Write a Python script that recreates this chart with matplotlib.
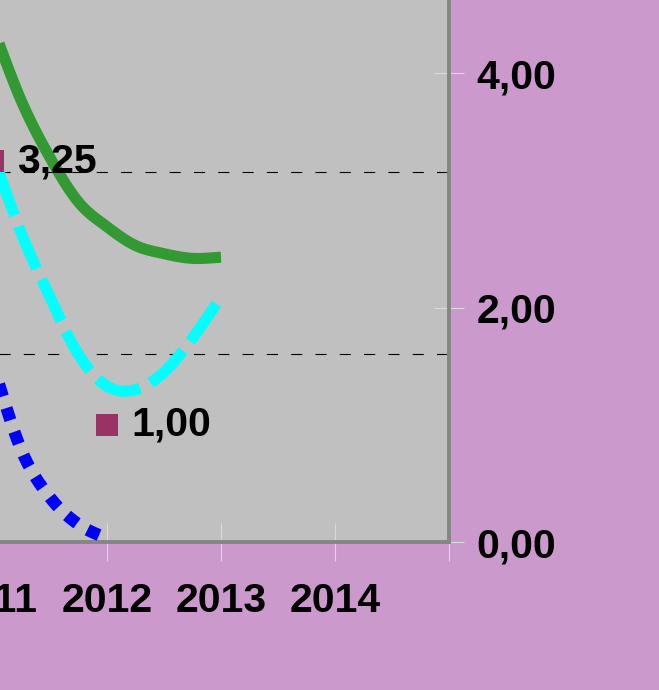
import numpy as np
import matplotlib
matplotlib.use('Agg')
import matplotlib.pyplot as plt
from matplotlib import font_manager

# ---------------- data ----------------
curve_years = [2011.0, 2011.25, 2011.5, 2011.75, 2012.0, 2012.25, 2012.5, 2012.75, 2013.0]
green_vals = [4.39, 3.76, 3.28, 2.90, 2.69, 2.53, 2.46, 2.42, 2.43]
cyan_vals = [3.30, 2.63, 2.09, 1.60, 1.33, 1.30, 1.45, 1.74, 2.09]
blue_years = [2011.0, 2011.25, 2011.5, 2011.75, 2012.0]
blue_vals = [1.51, 0.78, 0.38, 0.15, 0.03]
marker_years = [2011, 2012]
marker_vals = [3.25, 1.00]
marker_labels = ['3,25', '1,00']
ref_levels = [1.60, 3.16]
xtick_years = [2010, 2011, 2012, 2013, 2014, 2015]
xtick_labels = ['2010', '2011', '2012', '2013', '2014', '']
ytick_vals = [0, 2, 4, 6]
ytick_labels = ['0,00', '2,00', '4,00', '6,00']

# ---------------- style ----------------
names = {f.name for f in font_manager.fontManager.ttflist}
fam = [n for n in ['Liberation Sans Narrow', 'Liberation Sans', 'DejaVu Sans'] if n in names]
plt.rcParams['font.family'] = fam
plt.rcParams['lines.scale_dashes'] = False
FS = 29.5

def smooth(xs, ys, n=12):
    xs = np.asarray(xs, float); ys = np.asarray(ys, float)
    P = np.column_stack([xs, ys])
    P = np.vstack([P[0], P, P[-1]])
    out = []
    for i in range(1, len(P) - 2):
        p0, p1, p2, p3 = P[i-1], P[i], P[i+1], P[i+2]
        m1 = (p2 - p0) / 2.0
        m2 = (p3 - p1) / 2.0
        t = np.linspace(0, 1, n, endpoint=(i == len(P) - 3))[:, None]
        h00 = 2*t**3 - 3*t**2 + 1
        h10 = t**3 - 2*t**2 + t
        h01 = -2*t**3 + 3*t**2
        h11 = t**3 - t**2
        out.append(h00*p1 + h10*m1 + h01*p2 + h11*m2)
    out = np.vstack(out)
    return out[:, 0], out[:, 1]

W, H = 659, 690
fig = plt.figure(figsize=(W/100, H/100), dpi=100, facecolor='#CC99CC')
px_year = 114.0
px_unit = 117.2
right_px, bottom_px = 449.0, 542.0
x0, x1 = 2010, 2015
y0, y1 = 0, 6
left_px = right_px - (x1 - x0) * px_year
top_px = bottom_px - (y1 - y0) * px_unit
ax = fig.add_axes([left_px / W, (H - bottom_px) / H,
                   (right_px - left_px) / W, (bottom_px - top_px) / H])
ax.set_facecolor('#C0C0C0')
ax.set_xlim(x0, x1)
ax.set_ylim(y0, y1)

for lv in ref_levels:
    ax.axhline(lv, color='black', lw=0.8, linestyle=(0, (8, 9.5)), zorder=1)

gx, gy = smooth(curve_years, green_vals)
ax.plot(gx, gy, color='#339933', lw=8.0, solid_capstyle='butt',
        solid_joinstyle='round', zorder=3)
cx, cy = smooth(curve_years, cyan_vals)
ax.plot(cx, cy, color='#00FFFF', lw=8.0, linestyle=(0, (33, 8.5)),
        dash_capstyle='butt', zorder=3)
bx, by = smooth(blue_years, blue_vals)
ax.plot(bx, by, color='#0000FF', lw=8.8, linestyle=(0, (9.2, 8.8)),
        dash_capstyle='butt', zorder=3)

ax.plot(marker_years, marker_vals, linestyle='none', marker='s', markersize=15.5,
        color='#993366', markeredgewidth=0, zorder=4)
for xv, yv, lab in zip(marker_years, marker_vals, marker_labels):
    ax.annotate(lab, (xv, yv), xytext=(17.5, 0), textcoords='offset points',
                ha='left', va='center', fontsize=FS, fontweight='bold',
                color='black', zorder=5)

ax.set_xticks(xtick_years)
ax.set_xticklabels(xtick_labels)
ax.set_yticks(ytick_vals)
ax.set_yticklabels(ytick_labels)
ax.yaxis.tick_right()
ax.tick_params(axis='x', direction='inout', length=27, width=0.8, color='#DADADA',
               pad=15, labelsize=FS)
ax.tick_params(axis='y', direction='inout', length=22, width=0.8, color='#DADADA',
               pad=9, labelsize=FS)
for lab in ax.get_xticklabels() + ax.get_yticklabels():
    lab.set_fontweight('bold')

for side in ['left', 'top']:
    ax.spines[side].set_visible(False)
for side in ['right', 'bottom']:
    ax.spines[side].set_color('#858585')
    ax.spines[side].set_linewidth(2.8)

fig.savefig('out.png', dpi=100, facecolor=fig.get_facecolor())
